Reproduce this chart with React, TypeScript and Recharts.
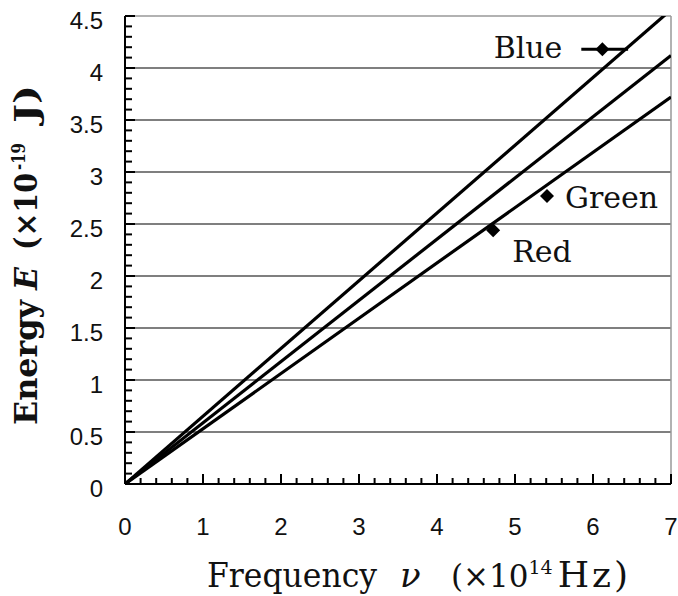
import React from 'react';
import { ScatterChart, Scatter, XAxis, YAxis, ReferenceLine, ErrorBar, Label } from 'recharts';

// ---- data ----
const xMajorTicks = [0, 1, 2, 3, 4, 5, 6, 7];
const yMajorTicks = [0, 0.5, 1, 1.5, 2, 2.5, 3, 3.5, 4, 4.5];
const gridValues = [0.5, 1, 1.5, 2, 2.5, 3, 3.5, 4];

const lineTop = [{ x: 0, y: 0 }, { x: 7, y: 4.56 }];
const lineMid = [{ x: 0, y: 0 }, { x: 7, y: 4.12 }];
const lineLow = [{ x: 0, y: 0 }, { x: 7, y: 3.72 }];

const bluePoint = [{ x: 6.12, y: 4.18, xErr: [0.27, 0.33] }];
const greenPoint = [{ x: 5.41, y: 2.77 }];
const redPoint = [{ x: 4.72, y: 2.44 }];

function subdivide(majors: number[], n: number): number[] {
  const out: number[] = [];
  for (let i = 0; i < majors.length - 1; i++) {
    for (let k = 0; k < n; k++) {
      out.push(Math.round((majors[i] + ((majors[i + 1] - majors[i]) * k) / n) * 1e6) / 1e6);
    }
  }
  out.push(majors[majors.length - 1]);
  return out;
}

const xTicks = subdivide(xMajorTicks, 5);
const yTicks = subdivide(yMajorTicks, 5);

const TICK_FONT = "'Liberation Sans', Arial, sans-serif";
const SERIF = "'DejaVu Serif', serif";
const INK = '#111';

const fmt = (v: number) => String(Number(v.toFixed(1)));

const XTick = (props: any) => {
  const { x, y, payload } = props;
  const v = payload.value as number;
  const major = Math.abs(v - Math.round(v)) < 1e-6;
  return (
    <g>
      <line x1={x} x2={x} y1={y} y2={y - (major ? 10 : 6)} stroke="#000" strokeWidth={2} />
      {major && (
        <text x={x} y={y + 51} textAnchor="middle" fontFamily={TICK_FONT} fontSize={24} fill={INK}>
          {fmt(v)}
        </text>
      )}
    </g>
  );
};

const YTick = (props: any) => {
  const { x, y, payload } = props;
  const v = payload.value as number;
  const major = Math.abs(v * 2 - Math.round(v * 2)) < 1e-6;
  return (
    <g>
      <line x1={x} x2={x + (major ? 10 : 7)} y1={y} y2={y} stroke="#000" strokeWidth={2} />
      {major && (
        <text x={x - 22} y={y + 13} textAnchor="end" fontFamily={TICK_FONT} fontSize={24} fill={INK}>
          {fmt(v)}
        </text>
      )}
    </g>
  );
};

const XTitle = () => (
  <g fontFamily={SERIF} fill={INK}>
    <text x={207} y={587} fontSize={34} textLength={170} lengthAdjust="spacingAndGlyphs">Frequency</text>
    <text x={400} y={587} fontSize={34} fontStyle="italic">ν</text>
    <text x={451} y={587} fontSize={31}>
      (×10
      <tspan dy={-13} fontSize={19}>14</tspan>
      <tspan dx={5} dy={13} fontSize={36} letterSpacing={3}>Hz)</tspan>
    </text>
  </g>
);

const YTitle = () => (
  <g transform="translate(37, 425) rotate(-90)" fontFamily={SERIF} fontWeight="bold" fill={INK}>
    <text x={0} y={0} fontSize={32} textLength={125} lengthAdjust="spacingAndGlyphs">Energy</text>
    <text x={135} y={0} fontSize={32} fontStyle="italic" textLength={23} lengthAdjust="spacingAndGlyphs">E</text>
    <text y={0} fontSize={32}>
      <tspan x={175} y={0} textLength={77} lengthAdjust="spacingAndGlyphs">(×10</tspan>
      <tspan x={255} y={-12} fontSize={18} textLength={27} lengthAdjust="spacingAndGlyphs">-19</tspan>
      <tspan x={302} y={0} textLength={38} lengthAdjust="spacingAndGlyphs">J)</tspan>
    </text>
  </g>
);

const emptyShape = () => <g />;

const makeMarker = (text: string, dx: number, dy: number, anchor: 'start' | 'end') => (props: any) => {
  const { cx, cy } = props;
  const r = 7;
  return (
    <g>
      <polygon points={`${cx},${cy - r} ${cx + r},${cy} ${cx},${cy + r} ${cx - r},${cy}`} fill="#000" />
      <text x={cx + dx} y={cy + dy} textAnchor={anchor} fontFamily={SERIF} fontSize={30} fill={INK}>
        {text}
      </text>
    </g>
  );
};

const blueShape = makeMarker('Blue', -40, 9, 'end');
const greenShape = makeMarker('Green', 18, 12, 'start');
const redShape = makeMarker('Red', 19, 32, 'start');

export default function App() {
  const lineStyle = { stroke: '#000', strokeWidth: 3.2 };
  return (
    <div style={{ position: 'absolute', left: 0, top: 0, background: '#fff' }}>
      <ScatterChart width={678} height={596} margin={{ top: 16, right: 7, bottom: 0, left: 0 }}>
        <XAxis
          type="number"
          dataKey="x"
          domain={[0, 7]}
          allowDataOverflow
          ticks={xTicks}
          interval={0}
          tickSize={0}
          tickMargin={0}
          tickLine={false}
          tick={XTick}
          height={112}
          axisLine={{ stroke: '#000', strokeWidth: 2 }}
        >
          <Label content={XTitle} />
        </XAxis>
        <YAxis
          type="number"
          dataKey="y"
          domain={[0, 4.5]}
          allowDataOverflow
          ticks={yTicks}
          interval={0}
          tickSize={0}
          tickMargin={0}
          tickLine={false}
          tick={YTick}
          width={125}
          axisLine={{ stroke: '#000', strokeWidth: 2 }}
        >
          <Label content={YTitle} />
        </YAxis>
        {gridValues.map((v) => (
          <ReferenceLine key={v} y={v} stroke="#555" strokeWidth={1.5} />
        ))}
        <ReferenceLine y={4.5} stroke="#999" strokeWidth={1.5} />
        <ReferenceLine x={7} stroke="#999" strokeWidth={1.5} />
        <Scatter data={lineTop} line={lineStyle} shape={emptyShape} isAnimationActive={false} />
        <Scatter data={lineMid} line={lineStyle} shape={emptyShape} isAnimationActive={false} />
        <Scatter data={lineLow} line={lineStyle} shape={emptyShape} isAnimationActive={false} />
        <Scatter data={bluePoint} shape={blueShape} isAnimationActive={false}>
          <ErrorBar dataKey="xErr" direction="x" width={0} stroke="#000" strokeWidth={3} />
        </Scatter>
        <Scatter data={greenPoint} shape={greenShape} isAnimationActive={false} />
        <Scatter data={redPoint} shape={redShape} isAnimationActive={false} />
      </ScatterChart>
    </div>
  );
}
